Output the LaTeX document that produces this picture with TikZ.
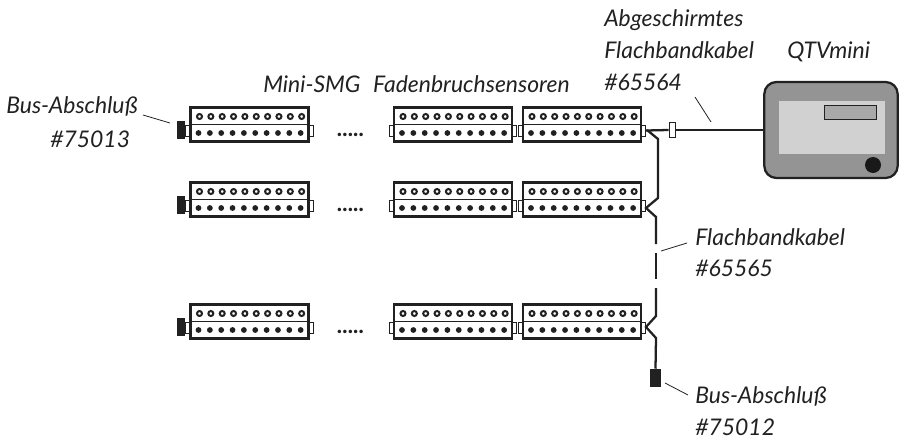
\documentclass[tikz,border=0pt]{standalone}
\usepackage{fontspec}
\setmainfont{Lato}
\usetikzlibrary{positioning}
\definecolor{qtvgrey}{gray}{0.58}
\definecolor{qtvlight}{gray}{0.82}
\definecolor{linegrey}{gray}{0.13}
\tikzset{
    sensorbox/.style={draw=linegrey, line width=1.8pt, minimum width=88.5pt, minimum height=25.5pt, inner sep=0pt, fill=white},
    sensortab/.style={draw=linegrey, line width=0.5pt, minimum width=3.4pt, minimum height=8.5pt, inner sep=0pt, fill=white},
    busplug/.style={fill=linegrey, minimum width=6pt, minimum height=13.5pt, inner sep=0pt},
    cable/.style={line width=1.7pt, draw=linegrey},
    leader/.style={line width=0.6pt, draw=linegrey},
    label/.style={font=\itshape\fontsize{17.2}{20}\selectfont, inner sep=0pt, align=left, text=linegrey}
}
\begin{document}
\begin{tikzpicture}[x=0.75pt, y=-0.75pt]
\useasboundingbox (0,0) rectangle (907,443);

% Sensoren
\foreach \r/\ypos in {1/124.5, 2/199.5, 3/321.5} {
    \foreach \c/\xpos in {1/249.5, 2/453, 3/582} {
        \node[sensortab] (tl\r\c) at (\xpos-61.5,\ypos+6) {};
        \node[sensortab] (tr\r\c) at (\xpos+61.5,\ypos+6) {};
        \node[sensorbox] (m\r\c) at (\xpos,\ypos) {};
        \draw[line width=0.8pt, linegrey] (m\r\c.west) -- (m\r\c.east);
        \foreach \n in {0,...,9} {
            \draw[linegrey, line width=1.5pt, fill=white] (\xpos-50+\n*11.35,\ypos-8) circle (2.5);
            \fill[linegrey] (\xpos-51+\n*11.35,\ypos+8.5) circle (2.9);
        }
    }
    \node[busplug] (p\r) at (180.5,\ypos+5) {};
    \node[label, anchor=base] (dots\r) at (351,\ypos+12) {\textbf{.....}};
}

% Kabel
\node[draw=linegrey, line width=0.8pt, fill=white, minimum width=5pt, minimum height=11pt, inner sep=0pt] (clip) at (672.5,130) {};
\node[draw=linegrey, line width=1.7pt, fill=qtvgrey, rounded corners=9pt, minimum width=100pt, minimum height=72pt, inner sep=0pt] (qtv) at (831,130) {};
\node[fill=qtvlight, minimum width=79.5pt, minimum height=39.5pt, inner sep=0pt] (screen) at (832,127.5) {};
\node[draw=linegrey, line width=0.7pt, fill=qtvgrey!80!white, minimum width=39pt, minimum height=10.5pt, inner sep=0pt] (display) at (850,112) {};
\node[circle, fill=black!90, minimum size=12pt, inner sep=0pt] (knob) at (873,165) {};
\draw[cable] (tr13.east) -- (clip.west);
\draw[cable] (clip.east) -- (qtv.west);

\coordinate (b1) at (647,130);
\coordinate (b2) at (658,139);
\coordinate (b3) at (658,198);
\coordinate (b4) at (646,208);
\coordinate (b5) at (656,217);
\coordinate (b6) at (656,316);
\coordinate (b7) at (646,327);
\coordinate (b8) at (656,338);
\node[busplug, minimum width=8.5pt] (p4) at (655.5,378) {};
\draw[cable] (b1) -- (b2) -- (b3) -- (b4) -- (b5) -- (656,244);
\draw[cable] (656,253) -- (656,279);
\draw[cable] (656,288) -- (b6) -- (b7) -- (b8) -- (p4.north);

% Etiketten
\node[label, anchor=base west] (mini) at (263,92) {Mini-SMG\hspace{5.5pt} Fadenbruchsensoren};
\node[label, anchor=base west] (busa) at (6,113) {Bus-Abschluß};
\node[label, anchor=base west] (busan) at (50,147) {\#75013};
\node[label, anchor=base west] (abg) at (604,26) {Abgeschirmtes};
\node[label, anchor=base west] (fl) at (604,58) {Flachbandkabel};
\node[label, anchor=base west] (num) at (604,90) {\#65564};
\node[label, anchor=base west] (qtvl) at (787,58) {QTVmini};
\node[label, anchor=base west] (fb) at (695,245) {Flachbandkabel};
\node[label, anchor=base west] (fbn) at (695,276) {\#65565};
\node[label, anchor=base west] (bb) at (695,403) {Bus-Abschluß};
\node[label, anchor=base west] (bbn) at (695,435) {\#75012};

% Hinweislinien
\coordinate (la1) at (143,115);
\coordinate (la2) at (170,123);
\draw[leader] (la1) -- (la2);
\coordinate (la3) at (695,97);
\coordinate (la4) at (711,122);
\draw[leader] (la3) -- (la4);
\coordinate (la5) at (661,251);
\coordinate (la6) at (687,243);
\draw[leader] (la5) -- (la6);
\coordinate (la7) at (665,383);
\coordinate (la8) at (688,395);
\draw[leader] (la7) -- (la8);

\end{tikzpicture}
\end{document}
